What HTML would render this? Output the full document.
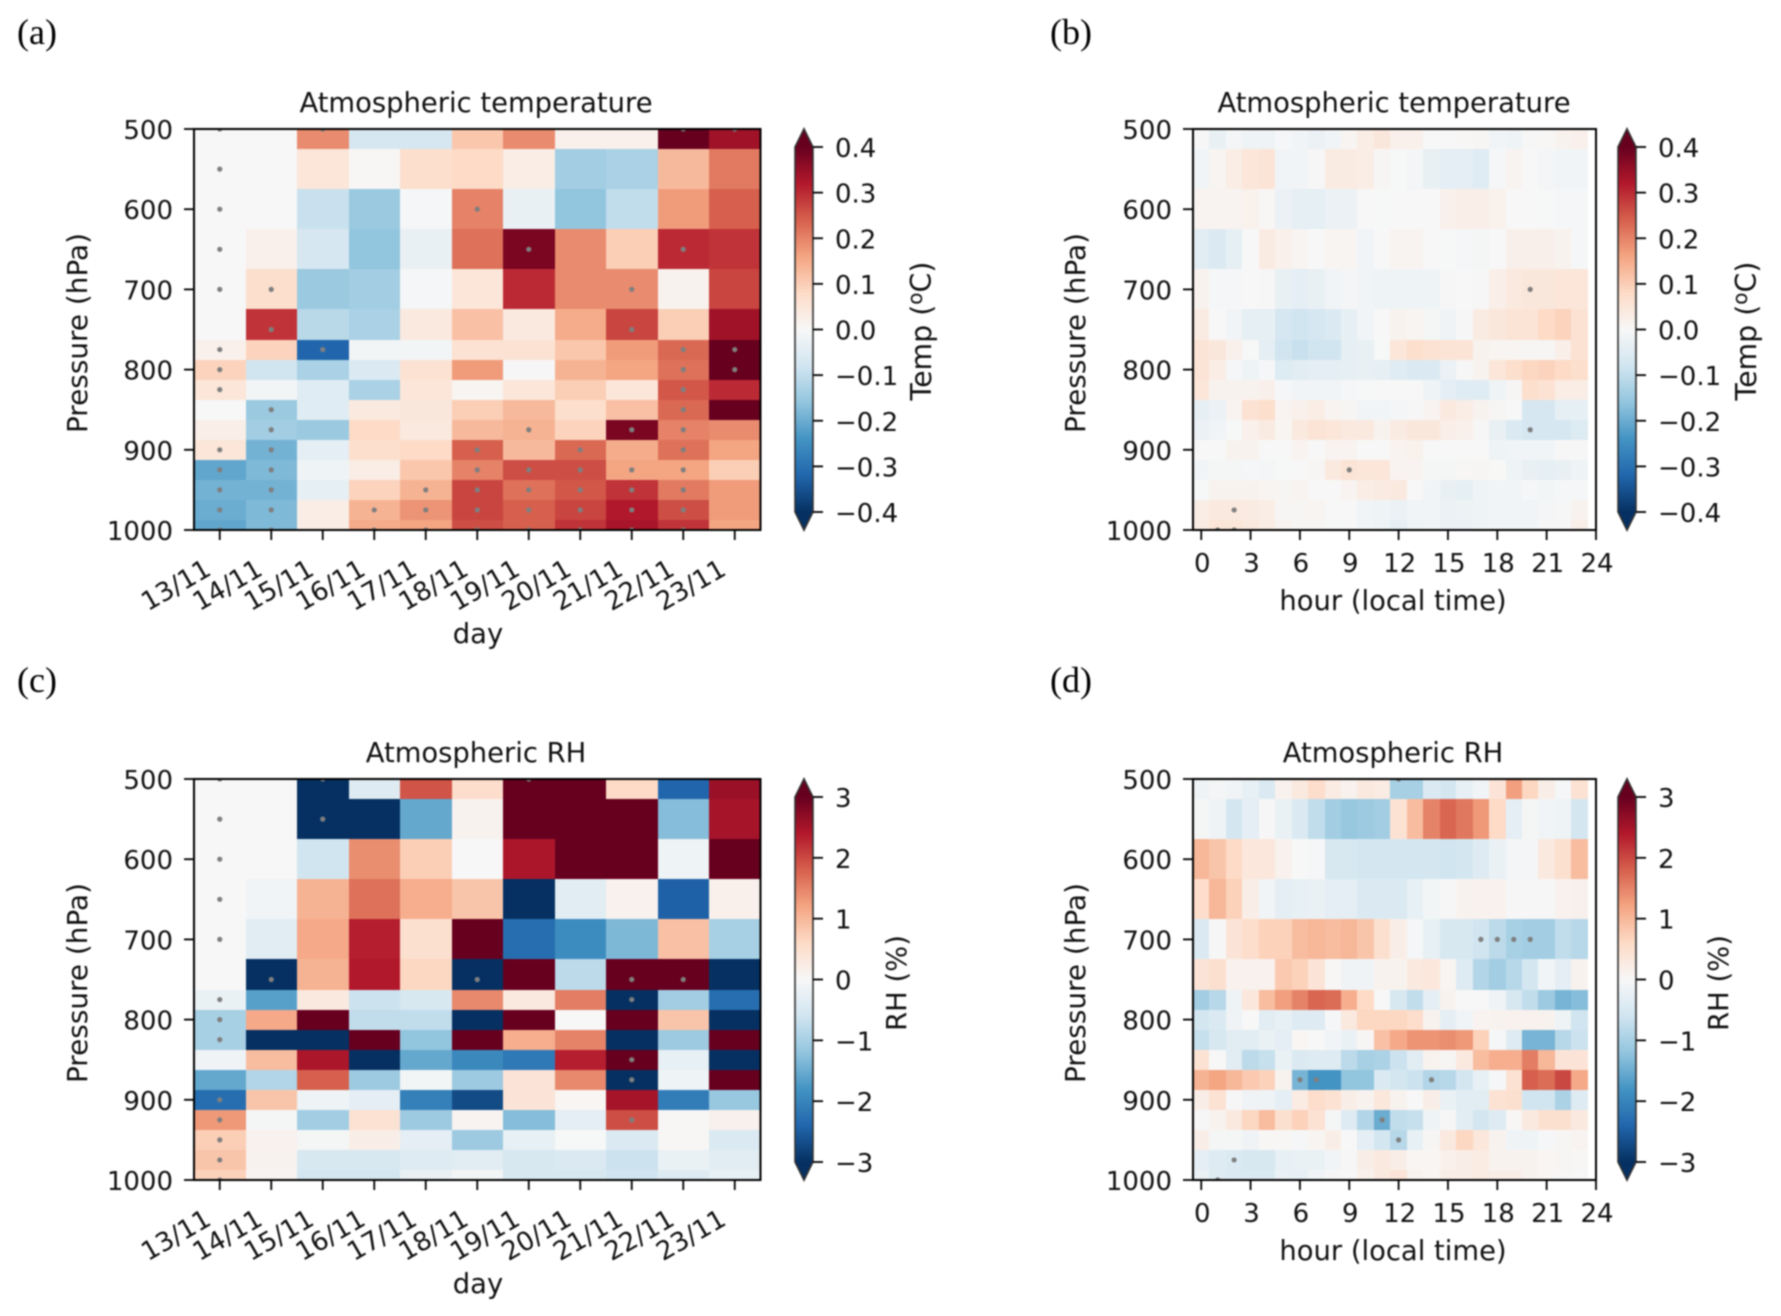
<!DOCTYPE html>
<html lang="en">
<head>
<meta charset="utf-8">
<title>Atmospheric temperature and RH anomalies</title>
<style>
html,body{margin:0;padding:0;background:#fff;}
#figure{display:block;width:1781px;height:1316px;filter:blur(.7px);}
text{font-family:"DejaVu Sans","Liberation Sans",sans-serif;fill:#111;}
.tick{font-size:26px;}
.lab{font-size:27.4px;}
.ylab{font-size:27.9px;}
.cblab{font-size:28.4px;}
.letter{font-family:"Liberation Serif",serif;font-size:36px;fill:#000;}
</style>
</head>
<body>
<svg id="figure" xmlns="http://www.w3.org/2000/svg" width="1781" height="1316" viewBox="0 0 1781 1316">
  <defs id="defs"></defs>
  <rect width="1781" height="1316" fill="#fff"/>
  <text class="letter" x="17" y="44">(a)</text>
  <text class="letter" x="1050" y="44">(b)</text>
  <text class="letter" x="17" y="692">(c)</text>
  <text class="letter" x="1050" y="692">(d)</text>

  <text class="lab" x="476" y="112" text-anchor="middle">Atmospheric temperature</text>
  <text class="lab" x="1394" y="112" text-anchor="middle">Atmospheric temperature</text>
  <text class="lab" x="476" y="762" text-anchor="middle">Atmospheric RH</text>
  <text class="lab" x="1393" y="762" text-anchor="middle">Atmospheric RH</text>

  <text class="ylab" transform="translate(87,333) rotate(-90)" text-anchor="middle">Pressure (hPa)</text>
  <text class="ylab" transform="translate(1085,333) rotate(-90)" text-anchor="middle">Pressure (hPa)</text>
  <text class="ylab" transform="translate(87,983) rotate(-90)" text-anchor="middle">Pressure (hPa)</text>
  <text class="ylab" transform="translate(1085,983) rotate(-90)" text-anchor="middle">Pressure (hPa)</text>

  <text class="lab" x="478" y="643" text-anchor="middle">day</text>
  <text class="lab" x="1393" y="610" text-anchor="middle">hour (local time)</text>
  <text class="lab" x="478" y="1293" text-anchor="middle">day</text>
  <text class="lab" x="1393" y="1260" text-anchor="middle">hour (local time)</text>

  <text class="cblab" transform="translate(931,331) rotate(-90)" text-anchor="middle">Temp (<tspan font-size="20" dy="-9">o</tspan><tspan dy="9">C)</tspan></text>
  <text class="cblab" transform="translate(1756,331) rotate(-90)" text-anchor="middle">Temp (<tspan font-size="20" dy="-9">o</tspan><tspan dy="9">C)</tspan></text>
  <text class="lab" transform="translate(906,983) rotate(-90)" text-anchor="middle">RH (%)</text>
  <text class="lab" transform="translate(1728,983) rotate(-90)" text-anchor="middle">RH (%)</text>
  <g id="charts"></g>
</svg>
<script>
const levels = [500,550,600,650,700,750,775,800,825,850,875,900,925,950,975,1000];
const pressureTicks = [500,600,700,800,900,1000];
const days = ['13/11','14/11','15/11','16/11','17/11','18/11','19/11','20/11','21/11','22/11','23/11'];
const hourTicks = [0,3,6,9,12,15,18,21,24];
const tempTicks = [0.4,0.3,0.2,0.1,0.0,-0.1,-0.2,-0.3,-0.4];
const rhTicks = [3,2,1,0,-1,-2,-3];

const tempByDay = [
[0,0,0.19,-0.07,-0.07,0.11,0.19,0.02,0.02,0.40,0.34],
[0,0,0.05,0.004,0.07,0.08,0.03,-0.14,-0.13,0.13,0.21],
[0,0,-0.09,-0.15,-0.005,0.2,-0.03,-0.16,-0.1,0.17,0.24],
[0,0.02,-0.07,-0.16,-0.03,0.22,0.38,0.19,0.1,0.3,0.29],
[0,0.07,-0.15,-0.14,-0.005,0.05,0.30,0.19,0.19,0.015,0.27],
[0,0.29,-0.11,-0.13,0.04,0.12,0.04,0.15,0.27,0.1,0.34],
[0.02,0.09,-0.32,-0.01,-0.01,0.06,0.06,0.11,0.17,0.23,0.40],
[0.09,-0.08,-0.13,-0.06,0.06,0.17,-0.003,0.14,0.16,0.22,0.40],
[0.05,-0.01,-0.05,-0.13,0.05,0.01,0.05,0.1,0.05,0.25,0.3],
[0,-0.15,-0.05,0.04,0.045,0.1,0.13,0.07,0.12,0.23,0.40],
[0.025,-0.14,-0.15,0.08,0.04,0.13,0.14,0.09,0.38,0.2,0.19],
[0.05,-0.19,-0.04,0.07,0.08,0.24,0.13,0.23,0.15,0.22,0.16],
[-0.21,-0.18,-0.02,0.03,0.11,0.2,0.26,0.26,0.16,0.16,0.1],
[-0.19,-0.19,-0.035,0.09,0.14,0.27,0.22,0.25,0.29,0.21,0.17],
[-0.2,-0.18,0.03,0.14,0.18,0.27,0.24,0.27,0.32,0.26,0.17],
[-0.21,-0.18,0.03,0.15,0.16,0.26,0.24,0.29,0.33,0.29,0.16]
];
const tempByDayDots = [
[500,0],[500,2],[500,9],[500,10],[550,0],[600,0],[600,5],[650,0],[650,6],[650,9],[700,0],[700,1],[700,8],[750,1],[750,8],
[775,0],[775,2],[775,9],[775,10],[800,0],[800,9],[800,10],[825,0],[825,9],[850,1],[850,9],[875,1],[875,6],[875,8],[875,9],
[900,0],[900,1],[900,5],[900,7],[900,9],[925,0],[925,1],[925,5],[925,6],[925,7],[925,8],[925,9],
[950,0],[950,1],[950,4],[950,5],[950,6],[950,7],[950,8],[950,9],
[975,0],[975,1],[975,3],[975,4],[975,5],[975,6],[975,7],[975,8],[975,9],
[1000,0],[1000,1],[1000,3],[1000,4],[1000,5],[1000,6],[1000,7],[1000,8],[1000,9]
];

const tempByHour = [
[-0.003,-0.03,-0.008,-0.02,-0.02,-0.005,-0.012,-0.025,-0.015,0.008,0.03,0.045,0.02,0.02,0,0,0.003,0.005,-0.015,-0.018,-0.003,0.003,0.015,0.02],
[-0.015,0.01,0.03,0.05,0.055,-0.015,-0.012,0.002,0.035,0.035,0.03,0.006,-0.002,-0.008,-0.03,-0.04,-0.04,-0.05,-0.005,0.012,0,-0.008,-0.012,-0.012],
[0.012,0.012,0.012,0.018,0.003,-0.025,-0.035,-0.035,-0.025,-0.025,0,-0.002,0,0,0,0.02,0.025,0.025,0.018,0,0,-0.002,-0.005,-0.005],
[-0.045,-0.06,-0.035,0,0.035,0.02,0.01,0,0.008,0.008,-0.012,0,0.012,0.012,0,-0.002,-0.005,-0.006,0,0.022,0.022,0.022,0.015,-0.005],
[0.015,-0.005,-0.005,0,-0.003,-0.032,-0.04,-0.03,-0.015,-0.007,-0.015,-0.018,-0.018,-0.018,-0.018,-0.003,0,0.002,0.025,0.04,0.045,0.045,0.05,0.05],
[0.035,-0.001,-0.015,-0.035,-0.035,-0.07,-0.08,-0.07,-0.06,-0.035,-0.015,0,0.015,0.01,-0.006,-0.017,-0.003,0.035,0.045,0.055,0.055,0.08,0.09,0.06],
[0.055,0.045,0.02,-0.002,-0.04,-0.08,-0.09,-0.08,-0.08,-0.035,-0.03,-0.002,0.05,0.07,0.06,0.055,0.055,0.015,0.01,0.01,0.005,0.005,0.025,0.06],
[0.055,0.03,-0.004,-0.02,-0.005,-0.055,-0.045,-0.04,-0.04,-0.035,-0.03,-0.035,-0.05,-0.06,-0.06,-0.025,-0.003,0.015,0.05,0.07,0.085,0.09,0.08,0.07],
[0.05,0.015,0.015,0.015,0.022,-0.005,-0.015,-0.015,-0.015,-0.005,-0.002,0,0,0,-0.02,-0.04,-0.05,-0.05,-0.02,0.005,0.07,0.06,0.03,0.03],
[-0.035,-0.025,0.012,0.06,0.07,0.012,0.02,0.03,0.012,0.005,-0.012,-0.012,-0.008,-0.003,0.012,0.04,0.03,0.015,0.005,0,-0.07,-0.07,-0.035,-0.035],
[-0.025,-0.015,-0.002,0.02,0.035,0.01,0.04,0.055,0.05,0.04,0.04,0.015,0.035,0.045,0.045,0.025,0.02,0.002,-0.03,-0.06,-0.07,-0.07,-0.07,-0.055],
[0,0,0.015,0.015,-0.001,0,0.012,0,0.012,0.012,0,0,0.012,0.018,0,0,0,0,-0.02,-0.015,-0.015,-0.015,-0.003,-0.003],
[-0.015,-0.006,-0.006,-0.005,-0.008,-0.002,-0.001,0.006,0.04,0.055,0.05,0.05,0.012,0.012,-0.006,-0.006,0.004,0.006,0.001,-0.02,-0.03,-0.035,-0.03,-0.02],
[-0.002,0.015,0.015,0.015,0.01,0.006,0.012,0,0,0.012,0.03,0.035,0.04,-0.001,-0.012,-0.03,-0.035,-0.02,-0.012,-0.012,-0.004,-0.01,-0.005,-0.004],
[0.03,0.04,0.04,0.035,0.03,0.006,0.006,0.01,0,0,-0.012,-0.02,-0.025,-0.015,-0.015,-0.025,-0.022,-0.018,-0.012,-0.012,-0.012,-0.008,-0.003,0.015],
[0.035,0.05,0.05,0.04,0.03,0.012,0.005,0.005,-0.002,-0.001,-0.012,-0.02,-0.035,-0.02,-0.015,-0.025,-0.025,-0.02,-0.012,-0.012,-0.012,-0.003,-0.003,0.025]
];
const tempByHourDots = [[700,20],[875,20],[925,9],[975,2],[1000,1],[1000,2]];

const rhByDay = [
[0,0,-3.2,-0.4,1.9,0.55,3.2,3.2,0.6,-2.4,2.6],
[0,0,-3.2,-3.2,-1.55,0.1,3.2,3.2,3.2,-1.3,2.5],
[0,0,-0.6,1.4,0.75,0,2.45,3.2,3.2,-0.15,3.2],
[0,-0.1,1.05,1.65,1.1,0.85,-3.2,-0.35,0.12,-2.45,0.15],
[0,-0.35,1.15,2.35,0.5,3.0,-2.3,-1.9,-1.35,0.9,-1.0],
[0,-3.2,1.05,2.4,0.65,-3.2,3.0,-0.8,3.1,3.1,-3.2],
[-0.2,-1.65,0.3,-0.65,-0.5,1.45,0.3,1.55,-3.2,-1.05,-2.3],
[-1.0,1.15,3.1,-0.75,-0.75,-3.2,3.1,0,3.1,0.85,-3.2],
[-1.0,-3.2,-3.2,3.1,-1.2,3.1,1.1,1.5,-3.2,-1.1,3.1],
[-0.12,0.95,2.45,-3.2,-1.55,-1.95,-2.15,2.35,3.05,-0.25,-3.2],
[-1.55,-0.9,1.8,-1.1,-0.08,-1.1,0.4,1.45,-3.2,-0.15,3.1],
[-2.3,0.85,-0.15,-0.3,-2.05,-2.7,0.4,0.05,2.5,-2.1,-1.15],
[1.3,-0.05,-1.05,0.45,-1.1,0.08,-1.3,-0.3,1.95,0.02,0.14],
[0.75,0.12,-0.05,0.2,-0.3,-1.1,-0.25,-0.01,-0.45,0.03,-0.45],
[0.85,0.1,-0.5,-0.5,-0.4,-0.35,-0.5,-0.45,-0.65,-0.2,-0.35],
[0.7,0.08,-0.55,-0.55,-0.2,-0.08,-0.5,-0.5,-0.6,-0.4,-0.25]
];
const rhByDayDots = [
[500,0],[500,2],[500,6],[550,0],[550,2],[600,0],[650,0],[700,0],[750,1],[750,5],[750,8],[750,9],[775,0],[775,8],[800,0],[825,0],
[850,8],[875,8],[900,0],[925,0],[925,8],[950,0],[975,0],[1000,0]
];

const rhByHour = [
[-0.15,-0.06,-0.1,-0.25,-0.45,0.12,0.3,0.55,0.25,0.12,0.3,0.25,-1.0,-1.0,-0.45,-0.55,-0.25,-0.1,0.4,1.25,0.65,0.2,-0.04,0.45],
[-0.05,-0.15,-0.55,-0.3,-0.02,-0.2,-0.45,-0.75,-1.05,-1.15,-1.1,-1.05,0.45,0.95,1.5,1.75,1.6,1.3,0.6,-0.3,-0.05,-0.1,-0.15,-0.55],
[1.0,0.85,0.6,0.35,0.35,0.12,0,-0.03,-0.5,-0.5,-0.55,-0.55,-0.55,-0.55,-0.55,-0.6,-0.55,-0.4,-0.2,-0.06,-0.06,0.3,0.5,0.95],
[0.55,1.0,0.7,0.2,-0.1,-0.3,-0.25,-0.2,-0.3,-0.3,-0.45,-0.45,-0.45,-0.25,-0.08,-0.02,0.1,0.12,0.13,-0.02,-0.02,-0.02,0.12,0.14],
[-0.45,-0.02,0.4,0.55,0.7,0.7,0.95,1.0,0.95,1.0,0.85,0.5,0.2,-0.04,-0.25,-0.5,-0.5,-0.6,-0.8,-1.0,-1.05,-1.05,-0.75,-0.85],
[0.4,0.5,0.12,0.12,0.12,0.8,0.7,0.4,0.03,-0.12,-0.12,0.1,0.1,0.3,0.35,0.06,-0.4,-0.9,-1.05,-0.85,-0.55,-0.1,-0.3,0.1],
[-1.05,-0.85,-0.15,0.35,0.95,1.25,1.5,1.75,1.7,1.1,0.6,0,-0.5,-0.75,-0.3,0.1,0,0,-0.12,-0.5,-0.75,-1.1,-1.4,-1.3],
[-0.55,-0.45,-0.12,0,-0.35,-0.25,-0.4,-0.4,-0.03,0.3,0.65,0.65,0.65,0.55,0.1,-0.3,-0.1,0.08,0.1,0.12,0.12,0.1,-0.15,-0.6],
[-0.7,-0.5,-0.35,-0.35,-0.2,-0.3,0.05,0,-0.1,-0.2,0.04,0.9,1.15,1.35,1.35,1.4,1.3,0.7,-0.03,-0.4,-1.4,-1.4,-0.85,-0.65],
[0.45,0,-0.35,-0.8,-0.7,-0.2,-0.45,-0.4,-0.4,-0.8,-1.0,-0.95,-0.65,-0.35,0.1,0.04,0.3,0.95,1.1,1.1,1.55,1.0,0.4,0.4],
[1.05,1.2,1.0,0.8,0.7,0.1,-1.4,-1.8,-1.8,-1.2,-1.2,-0.45,-0.55,-0.65,-0.9,-0.85,-0.55,-0.25,-0.03,0.45,1.8,1.7,2.0,1.15],
[0.2,0.45,-0.02,-0.12,-0.15,-0.3,0.25,0.55,0.45,0.2,0.1,0.35,0.1,0,0.2,-0.2,-0.35,-0.35,0.45,0.5,-0.6,-0.6,-0.95,-0.4],
[-0.02,0.1,0.3,0.65,0.95,0.5,0.7,0.45,-0.05,-0.4,-0.9,-1.5,-0.75,-0.7,-0.15,-0.02,-0.35,-0.55,-0.4,0.03,0.3,0.5,0.5,0.3],
[0.2,-0.05,-0.05,-0.12,0.03,0.03,-0.03,0.06,0.2,0,-0.3,-0.55,-0.85,-0.25,0.04,0.3,0.65,0.35,0.1,-0.12,-0.15,-0.03,0.04,0.08],
[-0.3,-0.4,-0.45,-0.5,-0.5,-0.25,-0.2,-0.2,-0.1,-0.02,0.2,0.3,0.2,0.05,0.05,0.15,0.2,0.25,0.1,0.1,0.1,0.05,0.04,0.02],
[-0.2,-0.4,-0.45,-0.45,-0.45,-0.2,-0.25,-0.1,-0.02,0,0.15,0.3,0.4,0.1,0.05,0.2,0.2,0.25,0.2,0.2,0.1,0.05,0.02,0]
];
const rhByHourDots = [[500,12],[700,17],[700,18],[700,19],[700,20],[875,6],[875,7],[875,14],[925,11],[950,12],[975,2],[1000,1]];

const colormapStops = ['#053061','#2166ac','#4393c3','#92c5de','#d1e5f0','#f7f7f7','#fddbc7','#f4a582','#d6604d','#b2182b','#67001f'];

const SVG_NS = 'http://www.w3.org/2000/svg';
const root = document.getElementById('charts');
const defs = document.getElementById('defs');

function svgEl(tag, attrs) {
  const el = document.createElementNS(SVG_NS, tag);
  for (const k in attrs) el.setAttribute(k, attrs[k]);
  return el;
}
function hexToRgb(h) {
  return [parseInt(h.slice(1,3),16), parseInt(h.slice(3,5),16), parseInt(h.slice(5,7),16)];
}
function colorFor(v, vmax) {
  let t = (v + vmax) / (2 * vmax);
  t = Math.max(0, Math.min(1, t)) * (colormapStops.length - 1);
  const i = Math.min(Math.floor(t), colormapStops.length - 2);
  const f = t - i;
  const a = hexToRgb(colormapStops[i]);
  const b = hexToRgb(colormapStops[i + 1]);
  return 'rgb(' + a.map((c, n) => Math.round(c + (b[n] - c) * f)).join(',') + ')';
}
function pressureAxis(p, top, height) {
  return top + (p - 500) / 500 * height;
}
function rowEdges(i) {
  const upper = i === 0 ? levels[0] : (levels[i - 1] + levels[i]) / 2;
  const lower = i === levels.length - 1 ? levels[i] : (levels[i] + levels[i + 1]) / 2;
  return [upper, lower];
}

function drawPanel(id, left, top, width, height, values, dots, vmax, xScale, xTicks, xLabels, rotated, cbLeft, cbTicks, cbDecimals) {
  const group = svgEl('g', {});
  
  
  root.appendChild(group);

  const clip = svgEl('clipPath', {id: 'clip-' + id});
  clip.appendChild(svgEl('rect', {x: left, y: top, width: width, height: height}));
  defs.appendChild(clip);

  const cells = svgEl('g', {'shape-rendering': 'crispEdges'});
  
  
  group.appendChild(cells);
  values.forEach((row, r) => {
    const [pa, pb] = rowEdges(r);
    const y0 = Math.round(pressureAxis(pa, top, height));
    const y1 = Math.round(pressureAxis(pb, top, height));
    row.forEach((v, c) => {
      const x0 = Math.round(xScale(c - 0.5));
      const x1 = Math.round(xScale(c + 0.5));
      const cell = svgEl('rect', {x: x0, y: y0, width: x1 - x0, height: y1 - y0, fill: colorFor(v, vmax)});
      
      
      cells.appendChild(cell);
    });
  });

  const marks = svgEl('g', {'clip-path': 'url(#clip-' + id + ')'});
  
  
  group.appendChild(marks);
  dots.forEach(d => {
    const dot = svgEl('circle', {cx: xScale(d[1]), cy: pressureAxis(d[0], top, height), r: 2.6, fill: '#7f7f7f'});
    
    
    marks.appendChild(dot);
  });

  const frame = svgEl('rect', {x: left, y: top, width: width, height: height, fill: 'none', stroke: '#000', 'stroke-width': 2});
  
  
  group.appendChild(frame);

  pressureTicks.forEach(p => {
    const y = pressureAxis(p, top, height);
    const tick = svgEl('line', {x1: left - 10, x2: left, y1: y, y2: y, stroke: '#000', 'stroke-width': 1.8});
    
    
    group.appendChild(tick);
    const label = svgEl('text', {x: left - 21, y: y + 10, 'text-anchor': 'end', class: 'tick'});
    
    
    label.textContent = p;
    group.appendChild(label);
  });

  xTicks.forEach((tv, i) => {
    const x = xScale(tv);
    const tick = svgEl('line', {x1: x, x2: x, y1: top + height, y2: top + height + 10, stroke: '#000', 'stroke-width': 1.8});
    
    
    group.appendChild(tick);
    const label = rotated
      ? svgEl('text', {'text-anchor': 'end', class: 'tick', transform: 'translate(' + (x - 7) + ',' + (top + height + 44) + ') rotate(-30)'})
      : svgEl('text', {x: x + 1, y: top + height + 42, 'text-anchor': 'middle', class: 'tick'});
    
    
    label.textContent = xLabels[i];
    group.appendChild(label);
  });

  // colorbar
  const cbTop = top + 18;
  const cbHeight = 365;
  const cbWidth = 18;
  const ext = cbHeight * 0.05;
  const grad = svgEl('linearGradient', {id: 'grad-' + id, x1: 0, y1: 1, x2: 0, y2: 0});
  colormapStops.forEach((c, i) => {
    grad.appendChild(svgEl('stop', {offset: i / (colormapStops.length - 1), 'stop-color': c}));
  });
  defs.appendChild(grad);
  const bar = svgEl('rect', {x: cbLeft, y: cbTop, width: cbWidth, height: cbHeight, fill: 'url(#grad-' + id + ')'});
  
  
  group.appendChild(bar);
  const upper = svgEl('polygon', {points: cbLeft + ',' + cbTop + ' ' + (cbLeft + cbWidth / 2) + ',' + (cbTop - ext) + ' ' + (cbLeft + cbWidth) + ',' + cbTop, fill: colormapStops[colormapStops.length - 1]});
  
  
  group.appendChild(upper);
  const lower = svgEl('polygon', {points: cbLeft + ',' + (cbTop + cbHeight) + ' ' + (cbLeft + cbWidth / 2) + ',' + (cbTop + cbHeight + ext) + ' ' + (cbLeft + cbWidth) + ',' + (cbTop + cbHeight), fill: colormapStops[0]});
  
  
  group.appendChild(lower);
  const outline = svgEl('polygon', {
    points: [
      cbLeft + ',' + cbTop,
      (cbLeft + cbWidth / 2) + ',' + (cbTop - ext),
      (cbLeft + cbWidth) + ',' + cbTop,
      (cbLeft + cbWidth) + ',' + (cbTop + cbHeight),
      (cbLeft + cbWidth / 2) + ',' + (cbTop + cbHeight + ext),
      cbLeft + ',' + (cbTop + cbHeight)
    ].join(' '),
    fill: 'none', stroke: '#333', 'stroke-width': 1.6
  });
  
  
  group.appendChild(outline);
  cbTicks.forEach(tv => {
    const y = cbTop + (vmax - tv) / (2 * vmax) * cbHeight;
    const tick = svgEl('line', {x1: cbLeft + cbWidth, x2: cbLeft + cbWidth + 10, y1: y, y2: y, stroke: '#000', 'stroke-width': 1.8});
    
    
    group.appendChild(tick);
    const label = svgEl('text', {x: cbLeft + cbWidth + 22, y: y + 10, class: 'tick'});
    
    
    label.textContent = (tv < 0 ? '\u2212' : '') + Math.abs(tv).toFixed(cbDecimals);
    group.appendChild(label);
  });
}

const dayLeft = 194, dayWidth = 566.5, hourLeft = 1193, hourWidth = 403;
const dayScale = i => dayLeft + (i + 0.5) / days.length * dayWidth;
const hourScale = h => hourLeft + (h + 0.5) / 24.5 * hourWidth;
const dayTickIdx = days.map((d, i) => i);

drawPanel('a', dayLeft, 129, dayWidth, 401, tempByDay, tempByDayDots, 0.4, dayScale, dayTickIdx, days, true, 795, tempTicks, 1);
drawPanel('b', hourLeft, 129, hourWidth, 401, tempByHour, tempByHourDots, 0.4, hourScale, hourTicks, hourTicks, false, 1618, tempTicks, 1);
drawPanel('c', dayLeft, 779, dayWidth, 401, rhByDay, rhByDayDots, 3, dayScale, dayTickIdx, days, true, 795, rhTicks, 0);
drawPanel('d', hourLeft, 779, hourWidth, 401, rhByHour, rhByHourDots, 3, hourScale, hourTicks, hourTicks, false, 1618, rhTicks, 0);
</script>
</body>
</html>
